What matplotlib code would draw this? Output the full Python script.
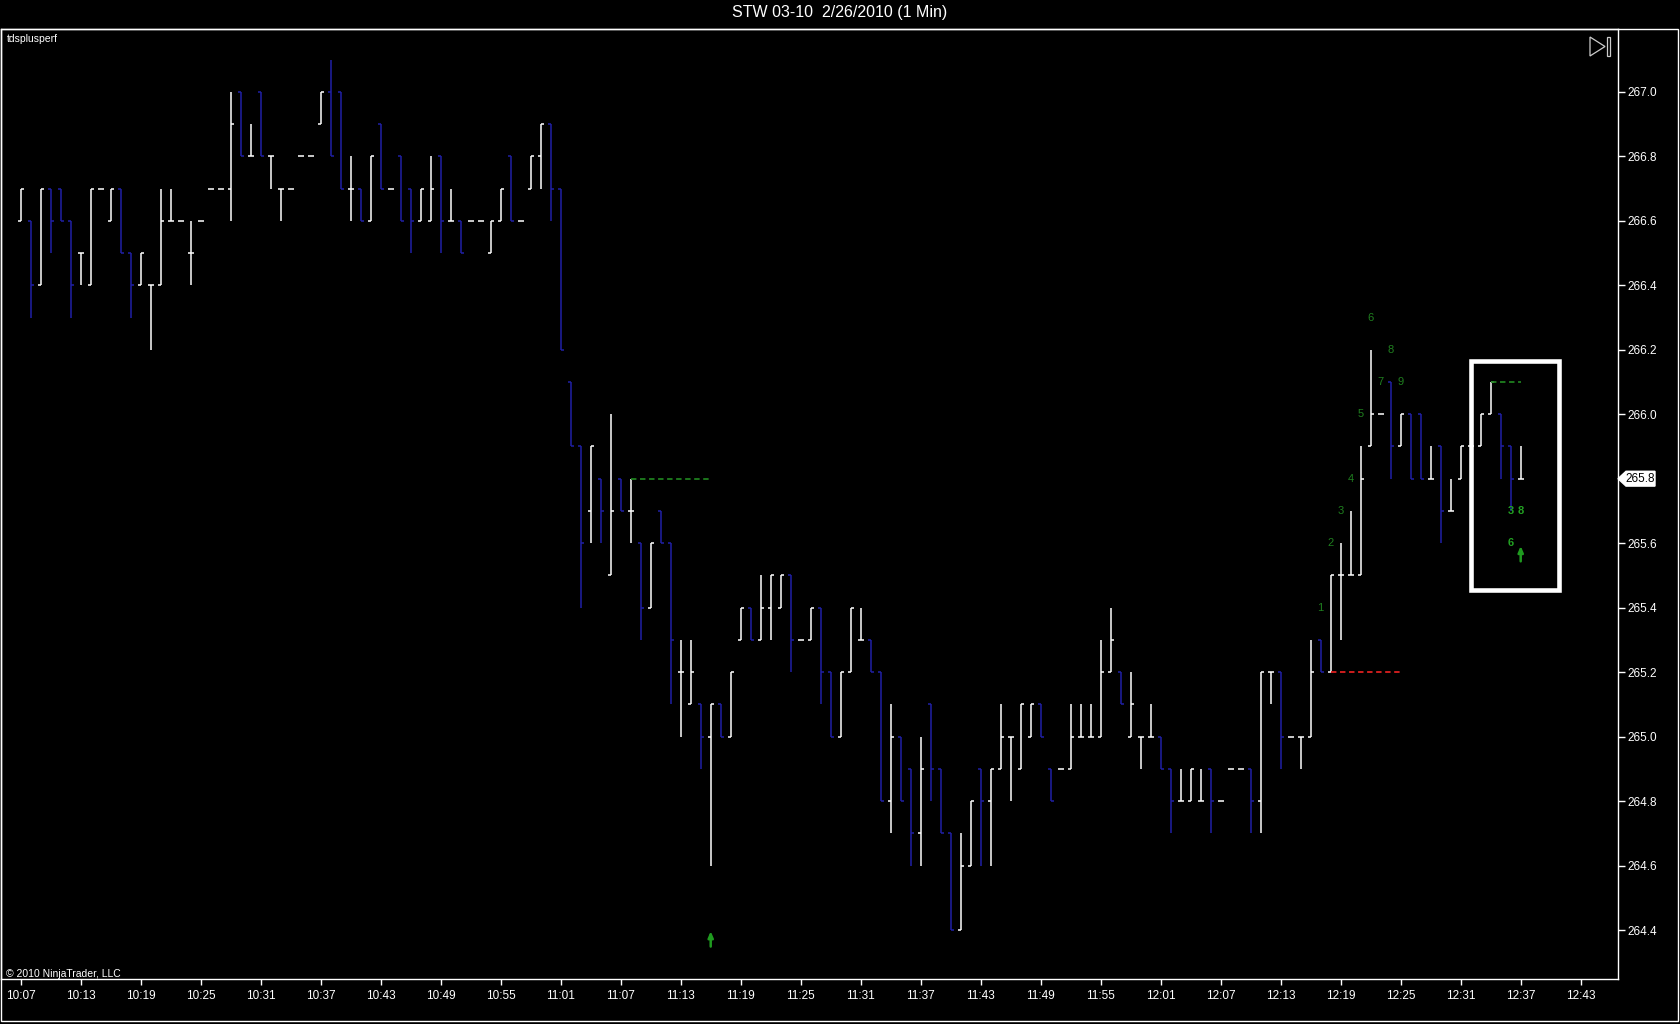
import matplotlib.pyplot as plt
from matplotlib.patches import Polygon, Rectangle
import numpy as np

plt.rcParams['font.family'] = ['Liberation Sans', 'DejaVu Sans']

title = "STW 03-10  2/26/2010 (1 Min)"

# one bar per minute, first bar 10:07
opens = [266.6, 266.6, 266.4, 266.7, 266.7, 266.6, 266.5, 266.4, 266.7, 266.6,
         266.7, 266.5, 266.4, 266.4, 266.4, 266.6, 266.6, 266.5, 266.6, 266.7,
         266.7, 266.7, 267.0, 266.8, 267.0, 266.8, 266.7, 266.7, 266.8, 266.8,
         266.9, 267.0, 267.0, 266.7, 266.7, 266.6, 266.9, 266.7, 266.8, 266.7,
         266.6, 266.6, 266.8, 266.6, 266.6, 266.6, 266.6, 266.5, 266.6, 266.8,
         266.6, 266.7, 266.8, 266.9, 266.7, 266.1, 265.9, 265.7, 265.8, 265.5,
         265.8, 265.7, 265.6, 265.4, 265.7, 265.6, 265.2, 265.1, 265.1, 265.0,
         265.1, 265.0, 265.3, 265.4, 265.3, 265.4, 265.4, 265.5, 265.3, 265.3,
         265.4, 265.2, 265.0, 265.2, 265.3, 265.3, 265.2, 264.8, 265.0, 264.9,
         264.7, 265.1, 264.9, 264.7, 264.4, 264.6, 264.9, 264.8, 264.9, 265.0,
         264.9, 265.0, 265.1, 264.9, 264.9, 264.9, 265.0, 265.0, 265.0, 265.2,
         265.2, 265.0, 265.0, 265.0, 265.0, 264.9, 264.8, 264.8, 264.8, 264.9,
         264.8, 264.9, 264.9, 264.9, 264.8, 265.2, 265.2, 265.0, 265.0, 265.0,
         265.3, 265.2, 265.5, 265.5, 265.5, 265.9, 266.0, 266.1, 265.9, 266.0,
         266.0, 265.8, 265.9, 265.7, 265.8, 265.9, 265.9, 266.0, 266.0, 265.9,
         265.8]
highs = [266.7, 266.6, 266.7, 266.7, 266.7, 266.6, 266.5, 266.7, 266.7, 266.7,
         266.7, 266.5, 266.5, 266.4, 266.7, 266.7, 266.6, 266.6, 266.6, 266.7,
         266.7, 267.0, 267.0, 266.9, 267.0, 266.8, 266.7, 266.7, 266.8, 266.8,
         267.0, 267.1, 267.0, 266.8, 266.7, 266.8, 266.9, 266.7, 266.8, 266.7,
         266.7, 266.8, 266.8, 266.7, 266.6, 266.6, 266.6, 266.6, 266.7, 266.8,
         266.6, 266.8, 266.9, 266.9, 266.7, 266.1, 265.9, 265.9, 265.8, 266.0,
         265.8, 265.8, 265.6, 265.6, 265.7, 265.6, 265.3, 265.3, 265.1, 265.1,
         265.1, 265.2, 265.4, 265.4, 265.5, 265.5, 265.5, 265.5, 265.3, 265.4,
         265.4, 265.2, 265.2, 265.4, 265.4, 265.3, 265.2, 265.1, 265.0, 264.9,
         265.0, 265.1, 264.9, 264.7, 264.7, 264.8, 264.9, 264.9, 265.1, 265.0,
         265.1, 265.1, 265.1, 264.9, 264.9, 265.1, 265.1, 265.1, 265.3, 265.4,
         265.2, 265.2, 265.0, 265.1, 265.0, 264.9, 264.9, 264.9, 264.9, 264.9,
         264.8, 264.9, 264.9, 264.9, 265.2, 265.2, 265.2, 265.0, 265.0, 265.3,
         265.3, 265.5, 265.6, 265.7, 265.9, 266.2, 266.0, 266.1, 266.0, 266.0,
         266.0, 265.9, 265.9, 265.8, 265.9, 265.9, 266.0, 266.1, 266.0, 265.9,
         265.9]
lows = [266.6, 266.3, 266.4, 266.5, 266.6, 266.3, 266.4, 266.4, 266.7, 266.6,
        266.5, 266.3, 266.4, 266.2, 266.4, 266.6, 266.6, 266.4, 266.6, 266.7,
        266.7, 266.6, 266.8, 266.8, 266.8, 266.7, 266.6, 266.7, 266.8, 266.8,
        266.9, 266.8, 266.7, 266.6, 266.6, 266.6, 266.7, 266.7, 266.6, 266.5,
        266.6, 266.6, 266.5, 266.6, 266.5, 266.6, 266.6, 266.5, 266.6, 266.6,
        266.6, 266.7, 266.7, 266.6, 266.2, 265.9, 265.4, 265.6, 265.6, 265.5,
        265.7, 265.6, 265.3, 265.4, 265.6, 265.1, 265.0, 265.1, 264.9, 264.6,
        265.0, 265.0, 265.3, 265.3, 265.3, 265.3, 265.4, 265.2, 265.3, 265.3,
        265.1, 265.0, 265.0, 265.2, 265.3, 265.2, 264.8, 264.7, 264.8, 264.6,
        264.6, 264.8, 264.7, 264.4, 264.4, 264.6, 264.6, 264.6, 264.9, 264.8,
        264.9, 265.0, 265.0, 264.8, 264.9, 264.9, 265.0, 265.0, 265.0, 265.2,
        265.1, 265.0, 264.9, 265.0, 264.9, 264.7, 264.8, 264.8, 264.8, 264.7,
        264.8, 264.9, 264.9, 264.7, 264.7, 265.1, 264.9, 265.0, 264.9, 265.0,
        265.2, 265.2, 265.3, 265.5, 265.5, 265.9, 266.0, 265.8, 265.9, 265.8,
        265.8, 265.8, 265.6, 265.7, 265.8, 265.9, 265.9, 266.0, 265.8, 265.7,
        265.8]
closes = [266.7, 266.4, 266.7, 266.6, 266.6, 266.4, 266.5, 266.7, 266.7, 266.7,
          266.5, 266.4, 266.5, 266.4, 266.6, 266.6, 266.6, 266.5, 266.6, 266.7,
          266.7, 266.9, 266.8, 266.8, 266.8, 266.8, 266.7, 266.7, 266.8, 266.8,
          267.0, 266.8, 266.7, 266.7, 266.6, 266.8, 266.7, 266.7, 266.6, 266.6,
          266.7, 266.7, 266.6, 266.6, 266.5, 266.6, 266.6, 266.6, 266.7, 266.6,
          266.6, 266.8, 266.9, 266.7, 266.2, 265.9, 265.6, 265.9, 265.7, 265.7,
          265.7, 265.7, 265.4, 265.6, 265.6, 265.3, 265.2, 265.2, 265.0, 265.1,
          265.0, 265.2, 265.4, 265.3, 265.4, 265.5, 265.5, 265.3, 265.3, 265.4,
          265.2, 265.0, 265.2, 265.4, 265.3, 265.2, 264.8, 265.0, 264.8, 264.7,
          264.9, 264.9, 264.7, 264.4, 264.6, 264.8, 264.8, 264.9, 265.0, 265.0,
          265.1, 265.1, 265.0, 264.8, 264.9, 265.0, 265.0, 265.0, 265.2, 265.3,
          265.1, 265.1, 265.0, 265.0, 264.9, 264.8, 264.8, 264.9, 264.8, 264.8,
          264.8, 264.9, 264.9, 264.8, 265.2, 265.2, 265.0, 265.0, 265.0, 265.2,
          265.2, 265.5, 265.5, 265.5, 265.8, 266.0, 266.0, 265.9, 266.0, 265.8,
          265.8, 265.8, 265.7, 265.7, 265.9, 265.9, 266.0, 266.1, 265.9, 265.8,
          265.8]

time_labels = ["10:07", "10:13", "10:19", "10:25", "10:31", "10:37", "10:43",
               "10:49", "10:55", "11:01", "11:07", "11:13", "11:19", "11:25",
               "11:31", "11:37", "11:43", "11:49", "11:55", "12:01", "12:07",
               "12:13", "12:19", "12:25", "12:31", "12:37", "12:43"]
price_ticks = [264.4, 264.6, 264.8, 265.0, 265.2, 265.4, 265.6, 265.8,
               266.0, 266.2, 266.4, 266.6, 266.8, 267.0]
last_price = 265.8

# green count labels: text, bar index, price
count_text = ["1", "2", "3", "4", "5", "6", "7", "8", "9"]
count_bar = [130, 131, 132, 133, 134, 135, 136, 137, 138]
count_price = [265.4, 265.6, 265.7, 265.8, 266.0, 266.3, 266.1, 266.2, 266.1]
box_text = ["3", "8", "6"]
box_bar = [149, 150, 149]
box_price = [265.7, 265.7, 265.6]

BLUE = "#2020a6"
GREEN = "#1f7f1f"

W, H = 1680, 1024
def fx(px):
    return px / W
def fy(py):
    return 1 - py / H

fig = plt.figure(figsize=(16.8, 10.24), dpi=100, facecolor='black')
ax = fig.add_axes([fx(1), fy(979), fx(1618) - fx(1), fy(29) - fy(979)])
ax.set_facecolor('black')
ax.set_xlim(-1.97, 159.73)
ax.set_ylim(264.248, 267.195)

idx = np.arange(len(opens))
o = np.array(opens)
c = np.array(closes)
cols = np.where(c >= o, 'white', BLUE)
tick = 0.3
ax.vlines(idx, lows, highs, colors=cols, lw=1.1)
ax.hlines(opens, idx - tick, idx, colors=cols, lw=1.1)
ax.hlines(closes, idx, idx + tick, colors=cols, lw=1.1)

# dashed signal lines
ax.hlines(265.8, 61, 69, colors=GREEN, linestyles=(0, (3, 2)), lw=1.3)
ax.hlines(266.1, 147, 150, colors=GREEN, linestyles=(0, (3, 2)), lw=1.3)
ax.hlines(265.2, 131, 138, colors="#dd2020", linestyles=(0, (3, 2)), lw=1.3)

for s, b, p in zip(count_text, count_bar, count_price):
    ax.text(b, p, s, color=GREEN, fontsize=8, ha='center', va='center')
for s, b, p in zip(box_text, box_bar, box_price):
    ax.text(b, p, s, color="#22a022", fontsize=8, ha='center', va='center',
            fontweight='bold')

# arrows
arrow = dict(arrowstyle='-|>,head_width=0.15,head_length=0.35',
             color="#1f9a1f", lw=1.8)
ax.annotate('', xy=(69, 264.405), xytext=(69, 264.34), arrowprops=arrow)
ax.annotate('', xy=(150, 265.6), xytext=(150, 265.535), arrowprops=arrow)

# highlight box
ax.add_patch(Rectangle((145, 265.455), 8.8, 0.711, fill=False,
                       ec='white', lw=3.3, zorder=5))

# axes styling
for sp in ax.spines.values():
    sp.set_color('white')
    sp.set_linewidth(1)
ax.yaxis.tick_right()
ax.set_yticks(price_ticks)
ax.set_yticklabels(["" if p == last_price else f"{p:.1f}" for p in price_ticks])
ax.set_xticks(np.arange(len(time_labels)) * 6)
ax.set_xticklabels(time_labels)
ax.tick_params(axis='y', colors='white', length=5, width=1, labelsize=8.5, pad=2)
ax.tick_params(axis='x', colors='white', length=4, width=1, labelsize=8.5, pad=4)

# last price marker
yt = ax.get_yaxis_transform()
def axx(px):
    return (px - 1) / 1617
h = 0.023
ax.add_patch(Polygon([(axx(1618), last_price), (axx(1626), last_price + h),
                      (axx(1655), last_price + h), (axx(1655), last_price - h),
                      (axx(1626), last_price - h)], closed=True,
                     transform=yt, fc='white', ec='white', clip_on=False, zorder=10))
ax.text(axx(1640), last_price, f"{last_price:.1f}", transform=yt, color='black',
        fontsize=8.5, ha='center', va='center', zorder=11, clip_on=False)

# texts
fig.text(0.5, fy(13), title, ha='center', va='center', color='white', fontsize=11.5)
fig.text(fx(7), fy(39), "tdsplusperf", ha='left', va='center', color='white', fontsize=7.5)
fig.text(fx(6), fy(974), "© 2010 NinjaTrader, LLC", ha='left', va='center',
         color='white', fontsize=7.5)

# outer frame and the play-to-end icon
fig.add_artist(Rectangle((fx(1), fy(1021)), fx(1678) - fx(1), fy(29) - fy(1021),
                         transform=fig.transFigure, fill=False, ec='white', lw=1))
fig.add_artist(Polygon([(fx(1590), fy(37)), (fx(1590), fy(56)), (fx(1605), fy(46.5))],
                       closed=True, transform=fig.transFigure, fill=False,
                       ec='#cccccc', lw=0.9))
fig.add_artist(Rectangle((fx(1607), fy(56)), fx(3), fy(37) - fy(56),
                         transform=fig.transFigure, fill=False, ec='#cccccc', lw=0.9))

fig.savefig('out.png', dpi=100, facecolor='black')
